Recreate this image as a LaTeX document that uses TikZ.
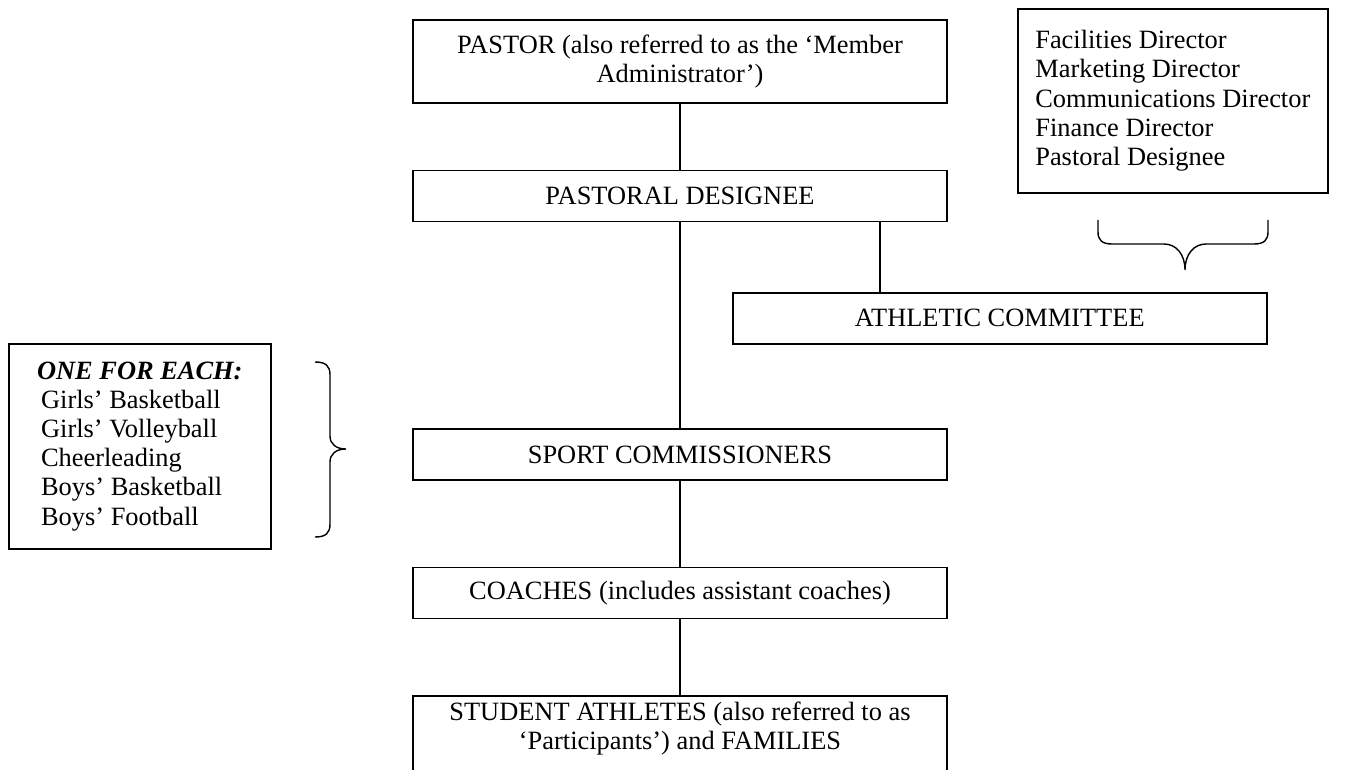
\documentclass[tikz,border=0pt]{standalone}
\usepackage{fontspec}
\setmainfont{Liberation Serif}
\usetikzlibrary{positioning}
\tikzset{
    org box/.style = {
        draw,
        line width = 0.8pt,
        minimum width = 267pt,
        minimum height = 25.5pt,
        inner sep = 2pt,
        align = center,
        font = \fontsize{13.2}{14.6}\selectfont,
        },
    list box/.style = {
        draw,
        line width = 0.8pt,
        align = left,
        inner sep = 2pt,
        font = \fontsize{13.2}{14.6}\selectfont,
        },
    link/.style = {
        line width = 0.6pt,
        },
    group brace/.style = {
        line width = 0.7pt,
        },
}

\begin{document}
\begin{tikzpicture}[x=0.5pt, y=-0.5pt]
    \useasboundingbox (0,0) rectangle (1349,770);

    % main column
    \node [org box, minimum height=41.5pt, anchor=north] (pastor) at (680,19)
        {PASTOR (also referred to as the `Member\\ Administrator')};
    \node [org box, below=33pt of pastor] (designee) {PASTORAL DESIGNEE};
    \node [org box, below=103pt of designee] (sport) {SPORT COMMISSIONERS};
    \node [org box, below=43pt of sport] (coaches) {COACHES (includes assistant coaches)};
    \node [org box, below=38pt of coaches, inner ysep=3pt, text depth=30pt] (athletes)
        {STUDENT ATHLETES (also referred to as\\ `Participants') and FAMILIES};

    % side boxes
    \node [org box, minimum width=267pt, anchor=north west] (athletic) at (732,292)
        {ATHLETIC COMMITTEE};
    \node [list box, minimum width=155pt, minimum height=92pt, anchor=north west] (members) at (1017,8)
        {Facilities Director\\ Marketing Director\\ Communications Director\\ Finance Director\\ Pastoral Designee};
    \node [list box, minimum width=131pt, minimum height=102.5pt, anchor=north west] (sports) at (8,343)
        {\textbf{\textit{ONE FOR EACH:}}\\ \hspace{2pt}Girls' Basketball\\ \hspace{2pt}Girls' Volleyball\\
         \hspace{2pt}Cheerleading\\ \hspace{2pt}Boys' Basketball\\ \hspace{2pt}Boys' Football};

    \coordinate (branch) at (880,0);

    \draw [link] (pastor.south) -- (designee.north);
    \draw [link] (designee.south) -- (sport.north);
    \draw [link] (sport.south) -- (coaches.north);
    \draw [link] (coaches.south) -- (athletes.north);
    \draw [link] (designee.south -| branch) -- (athletic.north -| branch);

    % braces
    \draw [group brace] (1098,220) -- (1098,232) .. controls (1098,240) and (1102,244) .. (1112,244)
        -- (1164,244) .. controls (1176,244) and (1185,254) .. (1185,270)
        .. controls (1185,254) and (1194,244) .. (1206,244) -- (1254,244)
        .. controls (1264,244) and (1268,240) .. (1268,232) -- (1268,220);
    \draw [group brace] (315,362) .. controls (326,362) and (330,366) .. (330,375) -- (330,436)
        .. controls (330,444) and (336,449) .. (346,449)
        .. controls (336,449) and (330,454) .. (330,462) -- (330,524)
        .. controls (330,533) and (326,537) .. (315,537);
\end{tikzpicture}
\end{document}
